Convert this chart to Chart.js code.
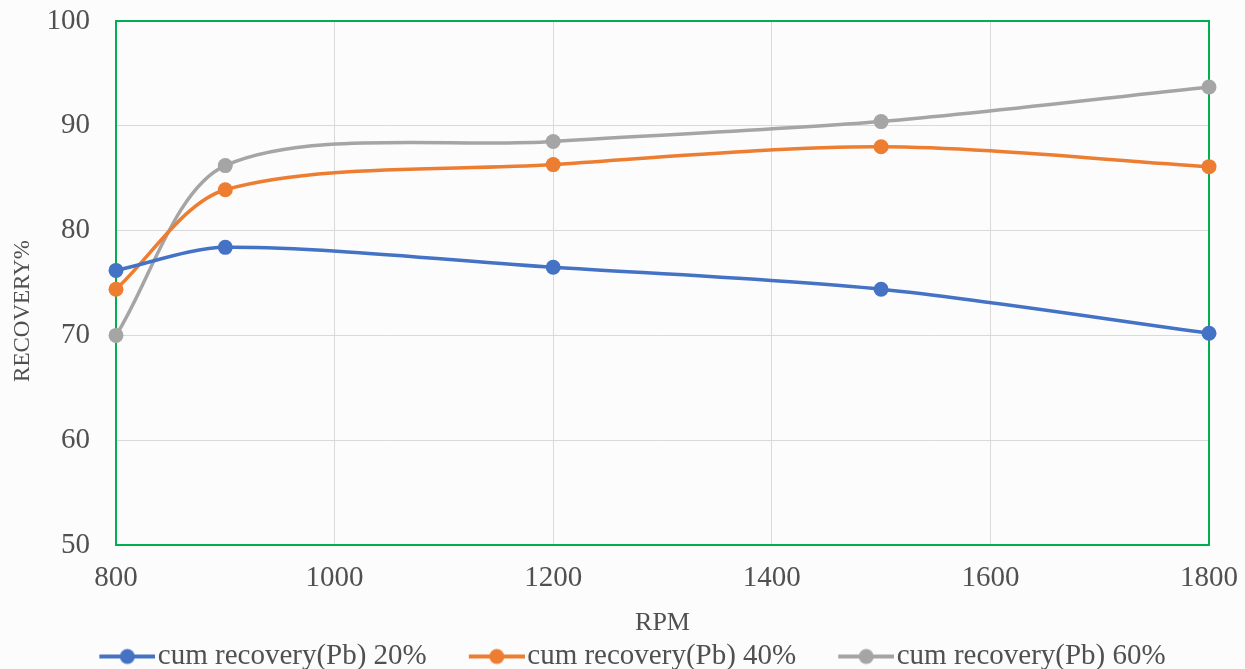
<!DOCTYPE html>
<html lang="en">

<head>
    <meta charset="UTF-8">
    <title>RECOVERY% vs RPM</title>
    <style>
        body { margin: 0; background: #fcfcfc; }
        #wrap { width: 1245px; height: 669px; }
    </style>
</head>

<body>
    <div id="wrap"><canvas id="chartRecovery"></canvas></div>

    <script src="https://cdn.jsdelivr.net/npm/chart.js@4.4.1/dist/chart.umd.min.js"></script>
    <script>
        // data
        const rpm = [800, 900, 1200, 1500, 1800];
        const rec20 = [76.2, 78.4, 76.5, 74.4, 70.2];
        const rec40 = [74.4, 83.9, 86.3, 88.0, 86.1];
        const rec60 = [70.0, 86.2, 88.5, 90.4, 93.7];
        const seriesNames = ['cum recovery(Pb) 20%', 'cum recovery(Pb) 40%', 'cum recovery(Pb) 60%'];
        const yTicks = [50, 60, 70, 80, 90, 100];
        const xTicks = [800, 1000, 1200, 1400, 1600, 1800];

        const colors = ['#4472c4', '#ed7d31', '#a5a5a5'];
        const serif = '"Liberation Serif", "Times New Roman", serif';
        const textColor = '#505050';

        // legend marker: line with a dot, drawn into the right part of a small canvas
        function legendMarker(color) {
            const c = document.createElement('canvas');
            c.width = 110; c.height = 18;
            const g = c.getContext('2d');
            g.strokeStyle = color;
            g.lineWidth = 4;
            g.beginPath();
            g.moveTo(54, 9); g.lineTo(110, 9);
            g.stroke();
            g.fillStyle = color;
            g.beginPath();
            g.arc(82, 9, 7.5, 0, Math.PI * 2);
            g.fill();
            return c;
        }

        function toPoints(values) {
            return values.map((v, i) => ({ x: rpm[i], y: v }));
        }

        const series = [rec20, rec40, rec60];
        const datasets = series.map((vals, i) => ({
            label: seriesNames[i],
            data: toPoints(vals),
            borderColor: colors[i],
            backgroundColor: colors[i],
            borderWidth: 3.5,
            pointRadius: 7.5,
            pointBorderWidth: 0,
            pointBackgroundColor: colors[i],
            pointStyle: 'circle',
            tension: 0.3,
            clip: false
        }));

        // green frame round the plot area, under the lines
        const plotFrame = {
            id: 'plotFrame',
            beforeDatasetsDraw(chart) {
                const { ctx, chartArea: a } = chart;
                ctx.save();
                ctx.strokeStyle = '#00b050';
                ctx.lineWidth = 2;
                ctx.strokeRect(a.left, a.top, a.right - a.left, a.bottom - a.top);
                ctx.restore();
            }
        };

        // move the legend row down/right, and sit the y title a bit lower
        const layoutTweaks = {
            id: 'layoutTweaks',
            afterLayout(chart) {
                const L = chart.legend;
                if (L) {
                    L.top += 12; L.bottom += 12;
                    L.left += 7; L.right += 7;
                }
                const Y = chart.scales.y;
                if (!Y._titleShifted) {
                    const drawTitle = Y.drawTitle;
                    Y.drawTitle = function () {
                        this.top += 56;
                        drawTitle.call(this);
                        this.top -= 56;
                    };
                    Y._titleShifted = true;
                }
            }
        };

        const ctx = document.getElementById('chartRecovery').getContext('2d');
        const grafica = new Chart(ctx, {
            type: 'line',
            data: { datasets: datasets },
            options: {
                responsive: true,
                maintainAspectRatio: false,
                animation: false,
                layout: { padding: { top: 21, right: 36, bottom: 0, left: 0 } },
                scales: {
                    x: {
                        type: 'linear',
                        min: xTicks[0],
                        max: xTicks[xTicks.length - 1],
                        afterBuildTicks: s => { s.ticks = xTicks.map(v => ({ value: v })); },
                        afterFit: s => { s.height = 85; s.paddingLeft = 0; s.paddingRight = 0; },
                        grid: { color: '#d9d9d9', lineWidth: 1, drawTicks: false },
                        border: { display: false },
                        ticks: {
                            padding: 16,
                            color: textColor,
                            font: { family: serif, size: 29 },
                            callback: v => String(v)
                        },
                        title: {
                            display: true,
                            text: 'RPM',
                            color: textColor,
                            padding: { top: 0, bottom: -6 },
                            font: { family: serif, size: 26, lineHeight: 1 }
                        }
                    },
                    y: {
                        min: yTicks[0],
                        max: yTicks[yTicks.length - 1],
                        afterBuildTicks: s => { s.ticks = yTicks.map(v => ({ value: v })); },
                        afterFit: s => { s.width = 116; s.paddingTop = 0; s.paddingBottom = 0; },
                        grid: { color: '#d9d9d9', lineWidth: 1, drawTicks: false },
                        border: { display: false },
                        ticks: {
                            padding: 26,
                            color: textColor,
                            font: { family: serif, size: 29 },
                            callback: v => String(v)
                        },
                        title: {
                            display: true,
                            text: 'RECOVERY%',
                            color: textColor,
                            padding: { top: 11, bottom: 0 },
                            font: { family: serif, size: 23, lineHeight: 1 }
                        }
                    }
                },
                plugins: {
                    tooltip: { enabled: false },
                    legend: {
                        position: 'bottom',
                        labels: {
                            usePointStyle: true,
                            pointStyleWidth: 86,
                            padding: 0,
                            color: textColor,
                            font: { family: serif, size: 29 },
                            generateLabels: chart => chart.data.datasets.map((d, i) => ({
                                text: d.label,
                                pointStyle: legendMarker(colors[i]),
                                fillStyle: colors[i],
                                strokeStyle: colors[i],
                                lineWidth: 0,
                                fontColor: textColor,
                                hidden: false,
                                datasetIndex: i
                            }))
                        }
                    }
                }
            },
            plugins: [plotFrame, layoutTweaks]
        });
    </script>

</body>

</html>
